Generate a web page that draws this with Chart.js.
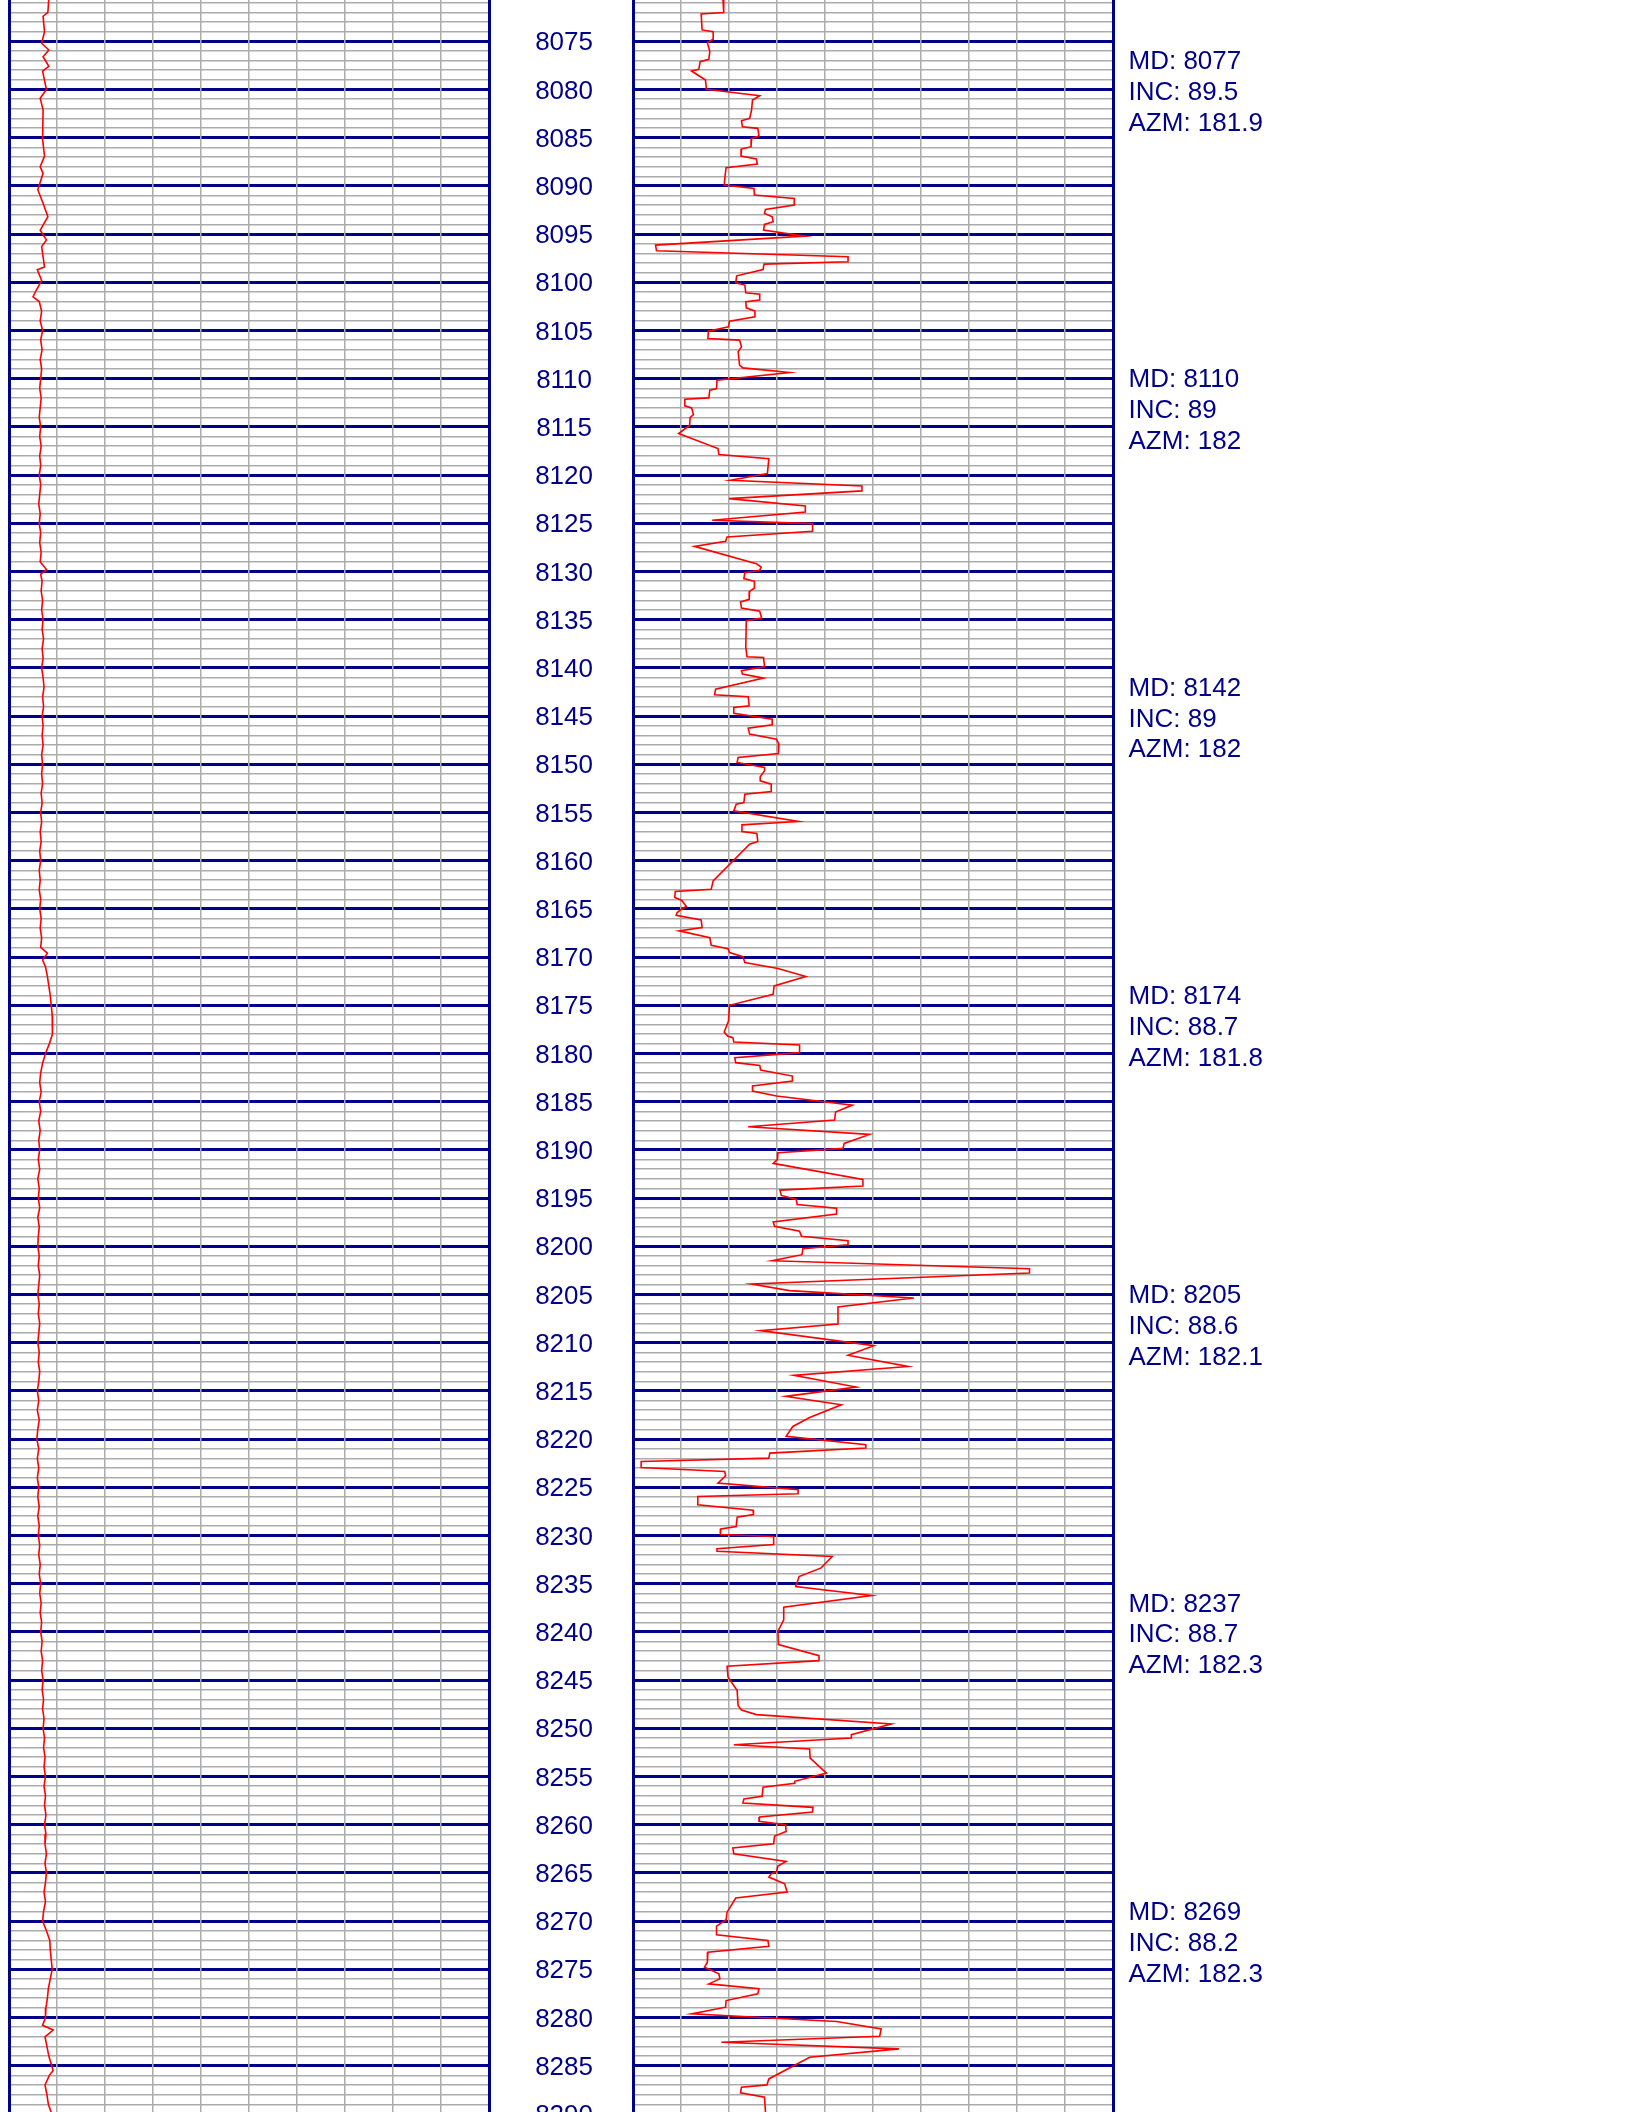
<!DOCTYPE html>
<html><head><meta charset="utf-8">
<script src="https://cdn.jsdelivr.net/npm/chart.js@4.4.1/dist/chart.umd.min.js"></script>
<style>
html,body{margin:0;padding:0;background:#fff;overflow:hidden;width:1632px;height:2112px;}
canvas{position:absolute;top:0;}
#c1{left:0;}
#c2{left:492px;}
</style></head><body>
<canvas id="c1" width="500" height="2160"></canvas>
<canvas id="c2" width="1140" height="2160"></canvas>
<script>
// ---- data ----
const depthTop = 8070.716;
const depthBottom = 8294.78;

const surveyMD  = [8077, 8110, 8142, 8174, 8205, 8237, 8269];
const surveyINC = [89.5, 89, 89, 88.7, 88.6, 88.7, 88.2];
const surveyAZM = [181.9, 182, 182, 181.8, 182.1, 182.3, 182.3];

// track 1 (left) curve
const track1Depth = [8070.5,8072,8072.4,8074,8075.2,8075.9,8076.6,8077.6,8078.1,8080,8080.9,8082.1,8085.2,8086.9,8088,8088.7,8090.4,8091.8,8093.2,8094.6,8095.6,8096.3,8098.4,8098.7,8099.8,8100.8,8101.5,
8102,8103,8104,8105,8106,8107,8108,8109,8110,8111,8112,8113,8114,8115,8116,8117,8118,8119,8120,8121,8122,8123,8124,8125,8126,8127,8128,8129,8129.8,8130.3,
8131,8132,8133,8134,8135,8136,8137,8138,8139,8140,8141,8142,8143,8144,8145,8146,8147,8148,8149,8150,8151,8152,8153,8154,8155,8156,8157,8158,8159,8160,8161,8162,8163,8164,8165,8166,8167,8168,8169,8169.6,8170.3,
8171,8172,8173,8174,8175,8176,8177,8178,8179,8180,8181,8182,8183,8184,8185,8186,8187,8188,8189,8190,8191,8192,8193,8194,8195,8196,8197,8198,8199,8200,
8201,8202,8203,8204,8205,8206,8207,8208,8209,8210,8211,8212,8213,8214,8215,8216,8217,8218,8219,8220,8221,8222,8223,8224,8225,8226,8227,8228,8229,8230,
8231,8232,8233,8234,8235,8236,8237,8238,8239,8240,8241,8242,8243,8244,8245,8246,8247,8248,8249,8250,8251,8252,8253,8254,8255,8256,8257,8258,8259,8260,
8261,8262,8263,8264,8265,8266,8267,8268,8269,8270,8271,8272,8273,8274,8275,8276,8277,8278,8279,8280,8280.8,8281.3,8282,8283,8284,8285,8285.5,8286,8287,8288,8289,8290,8291];
const track1Value = [8.3,8.1,7.1,7.4,6.8,8.3,7.1,8.3,7.0,7.8,6.5,7.1,7.0,7.4,6.5,7.1,6.0,7.1,8.1,6.5,7.8,6.8,7.4,5.9,6.8,5.7,5.0,
6.3,6.8,6.5,7.0,6.6,6.9,6.5,6.8,6.6,6.4,6.7,6.5,6.3,6.6,6.4,6.7,6.4,6.6,6.3,6.6,6.4,6.2,6.5,6.3,6.6,6.4,6.7,6.5,7.8,6.6,
6.9,6.7,7.0,6.8,7.1,6.9,7.2,6.9,7.1,6.8,7.1,7.3,7.0,7.2,6.9,7.1,6.9,7.1,6.8,7.0,6.8,7.0,6.7,6.9,6.6,6.8,6.5,6.7,6.4,6.6,6.3,6.5,6.3,6.6,6.4,6.7,6.5,6.8,6.6,8.0,7.0,
7.6,8.0,8.3,8.6,8.8,9.0,9.1,9.0,8.4,7.6,7.0,6.6,6.4,6.7,6.3,6.6,6.2,6.5,6.2,6.4,6.1,6.4,6.0,6.3,6.1,6.4,6.0,6.3,6.1,6.0,
6.3,6.1,6.4,6.2,6.0,6.3,6.1,6.4,6.2,6.0,6.3,6.1,6.4,6.2,5.9,6.2,5.9,6.3,6.0,5.8,6.2,5.9,6.2,5.9,6.2,6.0,6.3,6.0,6.3,6.1,
6.4,6.2,6.5,6.3,6.6,6.4,6.7,6.5,6.8,6.6,6.9,6.7,7.0,6.8,7.1,6.9,7.2,7.0,7.3,7.1,7.4,7.2,7.5,7.3,7.6,7.3,7.6,7.4,7.7,7.4,
7.7,7.5,7.8,7.5,7.8,7.6,7.3,7.6,7.2,7.0,7.8,8.5,8.6,8.8,9.0,8.6,8.2,8.0,7.7,7.6,7.0,9.2,7.5,7.9,8.3,8.9,9.2,8.4,7.5,7.9,8.2,8.9,8.6];

// track 2 (right) curve
const track2Depth = [8070.5,8070.71,8072.02,8072.16,8073.82,8074.0,8074.79,8075.14,8076.07,8076.87,8077.11,8077.91,8078.08,8079.01,8079.98,8080.64,8081.09,8082.13,8082.99,8083.24,8083.86,8084.03,8084.83,8085.07,8085.93,8086.18,8086.9,8087.21,8087.73,8088.11,8088.88,8089.91,8090.26,8090.95,8091.3,8091.99,8092.44,8092.85,8093.2,8093.72,8094.0,8094.58,8095.21,8096.14,8096.73,8097.35,8097.87,8098.11,8098.67,8099.33,8100.05,8100.29,8101.09,8101.23,8101.85,
8102.02,8102.65,8102.99,8103.58,8104.03,8104.62,8105.07,8105.83,8106.0,8106.7,8107.21,8108.6,8108.88,8109.36,8110.16,8111.02,8111.19,8111.99,8112.13,8112.82,8113.03,8113.72,8114.03,8114.83,8115.69,8117.25,8117.87,8118.29,8119.84,8120.54,8121.12,8121.64,8122.44,8123.2,8123.82,8124.69,8125.03,8125.83,8126.42,8126.87,8127.39,8129.19,8129.53,8129.88,8130.12,8130.74,8131.02,8131.71,8132.06,8132.89,8133.17,
8133.79,8134.13,8134.83,8135.1,8137.87,8138.84,8138.91,8139.88,8140.29,8140.64,8141.06,8142.2,8142.79,8142.99,8143.93,8144.1,8144.72,8145.31,8145.9,8146.25,8146.87,8147.39,8147.91,8148.88,8149.29,8149.81,8150.33,8150.68,8151.3,8151.71,8152.06,8152.82,8153.1,8153.96,8154.13,8154.83,8155.93,8156.28,8156.97,8157.18,8158.01,8158.29,8162.09,8162.96,8163.2,8163.82,8164.1,8164.72,
8165.03,8165.38,8165.66,8166.14,8166.94,8167.28,8167.98,8168.77,8169.12,8169.53,8169.95,8170.57,8171.19,8172.02,8172.99,8173.86,8175.0,8176.63,8177.77,8178.18,8178.36,8178.81,8179.12,8179.91,8180.43,8180.95,8181.23,8181.71,8182.34,8182.85,8183.37,8183.89,8184.41,8185.35,8186.07,8186.9,8187.6,8188.39,8189.33,8189.84,8190.29,8190.99,8191.4,8193.06,8193.75,8194.17,8194.72,8195.14,8195.66,8196.04,
8196.64,8197.47,8197.92,8198.44,8198.96,8199.41,8199.83,8200.24,8200.87,8201.49,8202.32,8202.77,8203.91,8204.6,8205.36,8206.3,8208.06,8208.75,8210.31,8211.31,8212.46,8213.39,8214.6,8215.57,8216.44,8217.75,8218.69,8219.72,8220.59,8220.93,8221.45,8221.97,8222.32,8222.94,8223.36,8223.81,8224.57,8225.26,8225.67,8225.95,8226.82,8227.37,
8227.82,8228.1,8229.07,8229.31,8229.9,8230.1,8230.93,8231.38,8231.63,8232.18,8233.36,8234.26,8235.29,8236.23,8237.44,8238.75,8239.93,8241.31,8242.46,8242.98,8243.56,8244.71,8246.09,8247.65,8248.1,8248.58,8249.55,8250.66,8251.0,8251.7,8252.15,8253.08,8254.64,8255.5,8255.71,8256.12,8257.06,8257.34,8257.75,8258.2,8258.69,
8259.2,8259.65,8260.0,8260.69,8261.18,8261.97,8262.42,8263.01,8263.81,8264.29,8264.84,8265.09,8265.43,8266.12,8266.99,8267.61,8269.07,8269.86,8270.52,8271.42,8272.01,8272.6,8273.22,8274.26,8274.78,8275.47,8275.99,8276.51,8277.02,8277.54,8278.24,8278.93,8279.62,8280.42,8281.18,8281.94,8282.56,8283.25,8284.12,8286.37,8286.99,8287.23,8287.82,8288.27,8289.83,8291.0];
const track2Value = [18.7,18.75,18.9,14.2,14.4,16.7,16.7,15.5,16.0,15.8,14.0,13.7,12.2,15.1,15.3,26.4,24.9,24.7,24.3,22.6,22.8,26.0,26.25,24.7,24.6,22.6,22.5,25.7,25.9,19.4,19.2,19.0,25.2,25.3,33.6,33.6,27.6,27.4,29.0,29.2,27.4,27.2,35.8,4.7,4.9,44.8,44.8,27.3,27.1,21.6,21.4,23.3,23.5,26.4,26.4,
23.5,23.6,25.4,25.4,20.1,19.9,15.7,15.6,22.2,22.6,21.9,22.2,22.9,32.6,17.5,17.4,16.0,15.8,10.8,10.8,12.2,12.6,11.9,11.8,9.5,17.7,17.9,28.3,28.0,20.3,47.7,47.7,20.0,35.9,35.9,16.5,37.4,37.4,19.6,19.3,12.8,25.7,26.7,26.4,23.3,23.1,25.3,25.3,24.3,24.2,22.4,
22.6,26.4,26.8,23.6,23.5,23.75,27.2,27.4,22.6,22.8,27.2,17.2,17.0,24.0,24.2,21.0,21.0,29.0,29.0,24.0,24.3,29.9,30.4,30.3,21.9,21.7,27.4,27.4,26.5,26.5,28.8,28.8,23.3,23.1,21.5,21.0,34.4,22.7,22.7,25.8,26.0,24.3,16.7,16.3,8.8,8.7,10.1,11.1,
10.1,9.2,9.0,14.2,14.4,9.6,16.0,16.3,19.8,20.1,22.9,23.3,30.2,36.0,29.4,29.2,20.1,19.9,19.0,19.7,20.8,21.0,34.7,34.7,21.2,21.4,26.4,26.6,33.2,33.2,24.9,24.9,29.9,45.7,42.2,42.0,24.0,49.3,44.0,43.75,30.2,30.1,29.2,47.9,47.9,30.6,30.9,34.0,34.2,42.4,
42.4,29.2,29.5,34.7,35.1,44.8,44.8,35.4,35.2,29.0,82.6,82.6,24.7,32.6,58.5,42.7,42.7,26.6,50.2,44.8,57.3,33.5,46.5,31.8,43.4,36.8,33.3,31.9,48.5,48.5,28.5,28.3,1.7,1.7,19.1,19.3,17.7,34.4,34.4,13.5,13.5,25.0,
25.1,21.7,21.5,18.3,18.2,29.3,29.3,17.5,17.5,41.5,39.2,34.6,33.9,49.7,31.4,31.4,30.2,30.3,38.75,38.75,19.6,19.8,21.7,21.9,22.6,25.7,53.8,45.5,45.5,21.0,36.8,36.9,40.3,33.7,33.7,27.1,26.9,23.1,22.9,37.5,37.4,
26.4,26.25,31.8,31.9,29.5,29.3,20.8,21.0,31.9,30.2,29.9,28.8,28.3,31.6,32.1,21.4,19.6,19.4,17.4,17.4,28.1,28.3,15.6,15.5,14.9,17.9,18.1,15.8,26.25,26.0,19.4,19.3,12.2,42.4,51.7,51.4,18.4,55.4,36.8,28.3,27.9,22.6,22.4,27.4,27.6,27.8];

// ---- styling ----
const NAVY = '#00008B';
const GRAY = '#ABABAB';
const FONT = '"Liberation Sans", Arial, Helvetica, sans-serif';

function toPoints(ds, vs) { return ds.map((d, i) => ({ x: vs[i], y: d })); }

function depthTicks(scale) {
  const t = [];
  for (let d = Math.ceil(scale.min); d <= Math.floor(scale.max); d++) t.push({ value: d });
  scale.ticks = t;
}

function xAxis() {
  return {
    type: 'linear', position: 'top', min: 0, max: 100,
    ticks: { display: false, stepSize: 10 },
    border: { display: false },
    grid: {
      z: -1, drawTicks: false,
      color: (c) => (c.tick && (c.tick.value === 0 || c.tick.value === 100)) ? NAVY : GRAY,
      lineWidth: (c) => (c.tick && (c.tick.value === 0 || c.tick.value === 100)) ? 3 : 1.5
    },
    afterFit: (s) => { s.height = 0; s.paddingLeft = 0; s.paddingRight = 0; s.paddingTop = 0; s.paddingBottom = 0; }
  };
}

function yAxis(showLabels, width, pad) {
  return {
    type: 'linear', position: 'left', reverse: true, min: depthTop, max: depthBottom,
    afterBuildTicks: depthTicks,
    ticks: {
      display: showLabels, autoSkip: false, padding: pad, crossAlign: 'center', labelOffset: 2,
      color: NAVY, font: { family: FONT, size: 26 },
      callback: (v) => (v % 5 === 0 ? String(v) : '')
    },
    border: { display: false },
    grid: {
      z: -2, drawTicks: false,
      color: (c) => (c.tick && c.tick.value % 5 === 0) ? NAVY : GRAY,
      lineWidth: (c) => (c.tick && c.tick.value % 5 === 0) ? 3 : 1.5
    },
    afterFit: (s) => { s.width = width; s.paddingTop = 0; s.paddingBottom = 0; s.paddingLeft = 0; s.paddingRight = 0; }
  };
}

const surveyPlugin = {
  id: 'surveyText',
  afterDraw(chart) {
    const ctx = chart.ctx, y = chart.scales.y, x0 = chart.chartArea.right + 15.5;
    ctx.save();
    ctx.fillStyle = NAVY;
    ctx.font = '26px ' + FONT;
    ctx.textAlign = 'left';
    ctx.textBaseline = 'middle';
    surveyMD.forEach((md, i) => {
      const py = y.getPixelForValue(md) + 1.6;
      ctx.fillText('MD: ' + md, x0, py);
      ctx.fillText('INC: ' + surveyINC[i], x0, py + 30.7);
      ctx.fillText('AZM: ' + surveyAZM[i], x0, py + 61.4);
    });
    ctx.restore();
  }
};

const common = {
  responsive: false, animation: false, devicePixelRatio: 1,
  plugins: { legend: { display: false }, tooltip: { enabled: false } },
  elements: { point: { radius: 0 }, line: { tension: 0 } }
};

new Chart(document.getElementById('c1'), {
  type: 'scatter',
  data: { datasets: [{ data: toPoints(track1Depth, track1Value), showLine: true, borderColor: '#FF0000', borderWidth: 1.6, pointRadius: 0 }] },
  options: Object.assign({}, common, {
    layout: { padding: { left: 9, right: 11, top: 0, bottom: 0 } },
    scales: { x: xAxis(), y: yAxis(false, 0, 0) }
  })
});

new Chart(document.getElementById('c2'), {
  type: 'scatter',
  data: { datasets: [{ data: toPoints(track2Depth, track2Value), showLine: true, borderColor: '#FF0000', borderWidth: 1.6, pointRadius: 0 }] },
  options: Object.assign({}, common, {
    layout: { padding: { left: 0, right: 519, top: 0, bottom: 0 } },
    scales: { x: xAxis(), y: yAxis(true, 141, 40) }
  }),
  plugins: [surveyPlugin]
});
</script>
</body></html>
